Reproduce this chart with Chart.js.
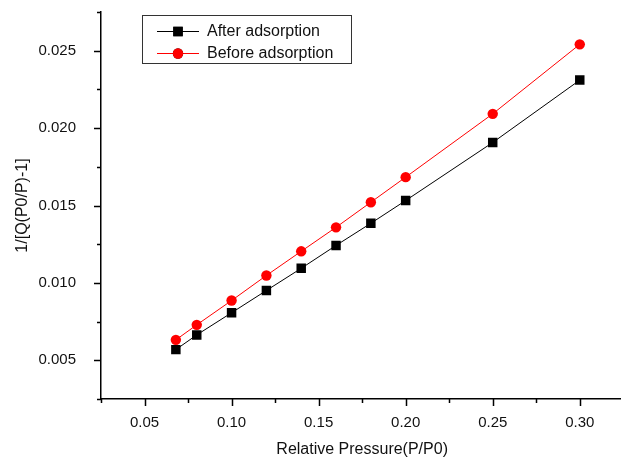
<!DOCTYPE html>
<html>
<head>
<meta charset="utf-8">
<title>BET plot</title>
<script src="https://cdn.jsdelivr.net/npm/chart.js@4"></script>
<style>
  html, body { margin:0; padding:0; background:#fff; overflow:hidden; }
  #wrap { width:621px; height:461px; overflow:hidden; }
</style>
</head>
<body>
<div id="wrap"><canvas id="bet" width="630" height="461"></canvas></div>
<script>
/* BET linear plot – 1/[Q(P0/P)-1] vs P/P0 */

const pressure = [0.068, 0.08, 0.10, 0.12, 0.14, 0.16, 0.18, 0.20, 0.25, 0.30];
const afterAds  = [0.00569, 0.00664, 0.00807, 0.00951, 0.01094, 0.01242, 0.01385, 0.01532, 0.01907, 0.02310];
const beforeAds = [0.00632, 0.00729, 0.00886, 0.01048, 0.01204, 0.01359, 0.01521, 0.01683, 0.02092, 0.02541];

const X_MIN = 0.025, X_MAX = 0.325, X_STEP = 0.025;   // labelled every 2nd step
const Y_MIN = 0.0025, Y_MAX = 0.0275, Y_STEP = 0.0025;

const FONT = '"Liberation Sans", Arial, sans-serif';
const isMajor = (v, step) => Math.round(v/step) % 2 === 0;
const pts = ys => pressure.map((x,i)=>({x, y: ys[i]}));

// outward major/minor tick marks
const axisTicks = {
  id:'axisTicks',
  afterDraw(chart){
    const {ctx, chartArea:a, scales:{x,y}} = chart;
    ctx.save();
    ctx.strokeStyle = '#000'; ctx.lineWidth = 1.5;
    ctx.beginPath();
    x.ticks.forEach(t=>{
      const px = Math.round(x.getPixelForValue(t.value)) + 0.5;
      const len = isMajor(t.value, X_STEP) ? 7 : 4;
      ctx.moveTo(px, a.bottom); ctx.lineTo(px, a.bottom + len);
    });
    y.ticks.forEach(t=>{
      const py = Math.round(y.getPixelForValue(t.value)) + 0.5;
      const len = isMajor(t.value, Y_STEP) ? 7 : 4;
      ctx.moveTo(a.left, py); ctx.lineTo(a.left - len, py);
    });
    ctx.stroke();
    ctx.restore();
  }
};

// boxed legend in the upper-left of the plot
const boxLegend = {
  id:'boxLegend',
  afterDraw(chart){
    const ctx = chart.ctx;
    const bx = 142, by = 15, bw = 209, bh = 48;
    ctx.save();
    ctx.strokeStyle = '#333'; ctx.lineWidth = 1;
    ctx.strokeRect(bx + 0.5, by + 0.5, bw, bh);
    ctx.font = `16px ${FONT}`;
    ctx.textBaseline = 'middle';
    chart.data.datasets.forEach((ds, i)=>{
      const ry = by + 16 + i*22;
      ctx.strokeStyle = ds.borderColor; ctx.lineWidth = 1;
      ctx.beginPath(); ctx.moveTo(157, ry + 0.5); ctx.lineTo(199, ry + 0.5); ctx.stroke();
      Chart.helpers.drawPoint(ctx, {
        pointStyle: ds.pointStyle, radius: ds.pointRadius, borderWidth: 0, rotation: 0
      }, 178, ry + 0.5);
      ctx.fillStyle = ds.pointBackgroundColor;
      ctx.fill();
      ctx.fillStyle = '#111';
      ctx.fillText(ds.label, 207, ry + 1);
    });
    ctx.restore();
  }
};

new Chart(document.getElementById('bet'), {
  type:'line',
  data:{
    datasets:[
      { label:'After adsorption', data: pts(afterAds),
        borderColor:'#000', borderWidth:1, pointStyle:'rect', pointRadius:6.7,
        pointBackgroundColor:'#000', pointBorderColor:'#000', pointBorderWidth:0, tension:0 },
      { label:'Before adsorption', data: pts(beforeAds),
        borderColor:'#ff0000', borderWidth:1, pointStyle:'circle', pointRadius:5.2,
        pointBackgroundColor:'#ff0000', pointBorderColor:'#ff0000', pointBorderWidth:0, tension:0 }
    ]
  },
  options:{
    responsive:false,
    animation:false,
    layout:{ padding:{ top:12, right:6, left:0, bottom:0 } },
    plugins:{ legend:{ display:false }, tooltip:{ enabled:false } },
    scales:{
      x:{
        type:'linear', min:X_MIN, max:X_MAX,
        grid:{ display:false },
        border:{ display:true, color:'#000', width:1.5 },
        ticks:{
          stepSize:X_STEP, autoSkip:false, maxRotation:0, padding:7,
          color:'#111', font:{ family:FONT, size:15 },
          callback: v => isMajor(v, X_STEP) ? v.toFixed(2) : ''
        },
        title:{ display:true, text:'Relative Pressure(P/P0)', color:'#111',
                font:{ family:FONT, size:16 }, padding:{ top:0, bottom:2 } },
        afterFit: s => { s.height = 62; s.paddingLeft = 0; s.paddingRight = 0; }
      },
      y:{
        type:'linear', min:Y_MIN, max:Y_MAX,
        grid:{ display:false },
        border:{ display:true, color:'#000', width:1.5 },
        ticks:{
          stepSize:Y_STEP, autoSkip:false, padding:17,
          color:'#111', font:{ family:FONT, size:15 },
          callback: v => isMajor(v, Y_STEP) ? v.toFixed(3) : ''
        },
        title:{ display:true, text:'1/[Q(P0/P)-1]', color:'#111',
                font:{ family:FONT, size:16 }, padding:{ top:13, bottom:0 } },
        afterFit: s => { s.width = 101; s.paddingTop = 0; s.paddingBottom = 0; }
      }
    }
  },
  plugins:[axisTicks, boxLegend]
});
</script>
</body>
</html>
